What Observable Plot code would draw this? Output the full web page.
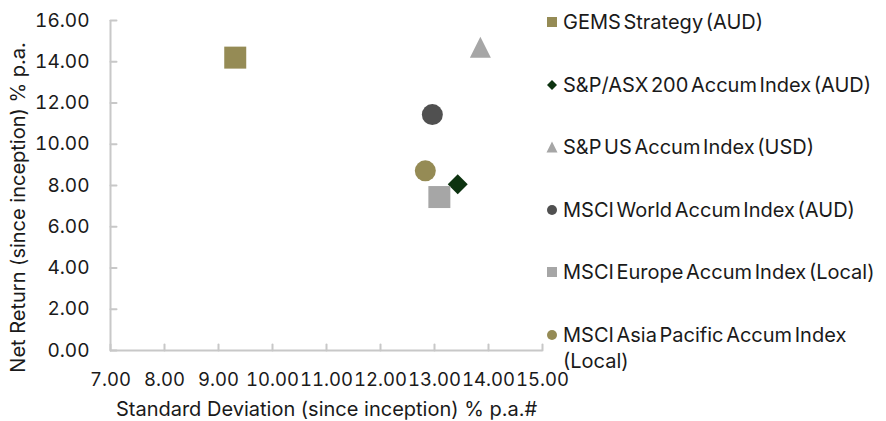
<!DOCTYPE html>
<html><head><meta charset="utf-8">
<script src="https://cdn.jsdelivr.net/npm/d3@7"></script>
<script src="https://cdn.jsdelivr.net/npm/@observablehq/plot@0.6"></script>
<style>
body{margin:0;background:#fff;}
#chart{position:relative;width:886px;height:421px;font-family:Inter, "Open Sans", sans-serif;}
.item{position:absolute;left:546px;width:340px;display:flex;align-items:flex-start;font-size:20px;line-height:26px;word-spacing:-3px;color:#1a1a1a;}
.item svg{flex:none;margin-top:7px;margin-right:5px;}
</style></head><body><div id="chart"></div>
<script>
const series = ["GEMS Strategy (AUD)","S&P/ASX 200 Accum Index (AUD)","S&P US Accum Index (USD)","MSCI World Accum Index (AUD)","MSCI Europe Accum Index (Local)","MSCI Asia Pacific Accum Index (Local)"];
const stdDev = [9.31, 13.43, 13.85, 12.96, 13.09, 12.83];
const netReturn = [14.2, 8.06, 14.7, 11.44, 7.44, 8.71];
const colors = ["#958b55","#0d3310","#a6a6a6","#505050","#a6a6a6","#958b55"];
const shapes = ["square","diamond","triangle","circle","square","circle"];
const xTicks = [7,8,9,10,11,12,13,14,15];
const yTicks = [0,2,4,6,8,10,12,14,16];
const xLabel = "Standard Deviation (since inception) % p.a.#";
const yLabel = "Net Return (since inception) % p.a.";

const boxes = {square:22, circle:21, diamond:20, triangle:21};
const legendBoxes = {square:10, circle:10, diamond:10, triangle:11};
const symbolDefs = {
  square: {draw(c, size){const s=Math.sqrt(size)/2; c.moveTo(-s,-s); c.lineTo(s,-s); c.lineTo(s,s); c.lineTo(-s,s); c.closePath();}},
  diamond: {draw(c, size){const s=Math.sqrt(size)/2; c.moveTo(0,-s); c.lineTo(s,0); c.lineTo(0,s); c.lineTo(-s,0); c.closePath();}},
  triangle: {draw(c, size){const s=Math.sqrt(size)/2; c.moveTo(0,-s); c.lineTo(s,s); c.lineTo(-s,s); c.closePath();}},
  circle: {draw(c, size){const s=Math.sqrt(size)/2; c.moveTo(s,0); c.arc(0,0,s,0,2*Math.PI); c.closePath();}}
};
const tickShape = {draw(c, l){c.moveTo(0,0); c.lineTo(0,-l);}};
const data = series.map((name,i)=>({name, x:stdDev[i], y:netReturn[i], color:colors[i], shape:shapes[i]}));
const fmt = d3.format(".2f");
const axisColor = "#c8c8c8";
const ink = "#1a1a1a";

const plot = Plot.plot({
  width: 886, height: 421,
  marginLeft: 110, marginRight: 344, marginTop: 20, marginBottom: 71,
  style: {fontFamily: "Inter, 'Open Sans', sans-serif", fontSize: "19px", color: ink, background: "#fff"},
  x: {domain: [xTicks[0], xTicks[xTicks.length-1]]},
  y: {domain: [yTicks[0], yTicks[yTicks.length-1]]},
  marks: [
    Plot.axisY(yTicks, {tickSize: 0, tickPadding: 21, tickFormat: fmt, label: null, fill: ink}),
    Plot.axisX(xTicks, {tickSize: 0, tickPadding: 22, tickFormat: fmt, label: null, fill: ink, fontSize: 18.5}),
    Plot.vector(yTicks, {y: d=>d, frameAnchor: "left", rotate: 90, length: 6, anchor: "start", shape: tickShape, stroke: axisColor, strokeWidth: 2}),
    Plot.vector(xTicks, {x: d=>d, frameAnchor: "bottom", rotate: 0, length: 6, anchor: "start", shape: tickShape, stroke: axisColor, strokeWidth: 2}),
    Plot.ruleX([xTicks[0]], {stroke: axisColor, strokeWidth: 2}),
    Plot.ruleY([yTicks[0]], {stroke: axisColor, strokeWidth: 2}),
    Plot.text([yLabel], {frameAnchor: "left", textAnchor: "middle", dx: -92, dy: 22, rotate: -90, fill: ink, fontSize: 20}),
    Plot.text([xLabel], {frameAnchor: "bottom", dy: 65, fill: ink, fontSize: 20}),
    ...data.map(d => Plot.dot([d], {x: "x", y: "y", fill: d.color, symbol: symbolDefs[d.shape], r: boxes[d.shape]/Math.sqrt(Math.PI)}))
  ]
});
const chart = document.getElementById("chart");
chart.appendChild(plot);

data.forEach((d,i)=>{
  const item = document.createElement("div");
  item.className = "item";
  item.style.top = (22 + i*62.6 - 13) + "px";
  const b = legendBoxes[d.shape];
  const svg = d3.create("svg").attr("width", 12).attr("height", 12);
  svg.append("path").attr("transform","translate(6,6)").attr("fill", d.color)
    .attr("d", d3.symbol(symbolDefs[d.shape], b*b)());
  item.appendChild(svg.node());
  const span = document.createElement("span");
  span.textContent = d.name;
  item.appendChild(span);
  chart.appendChild(item);
});
</script></body></html>
